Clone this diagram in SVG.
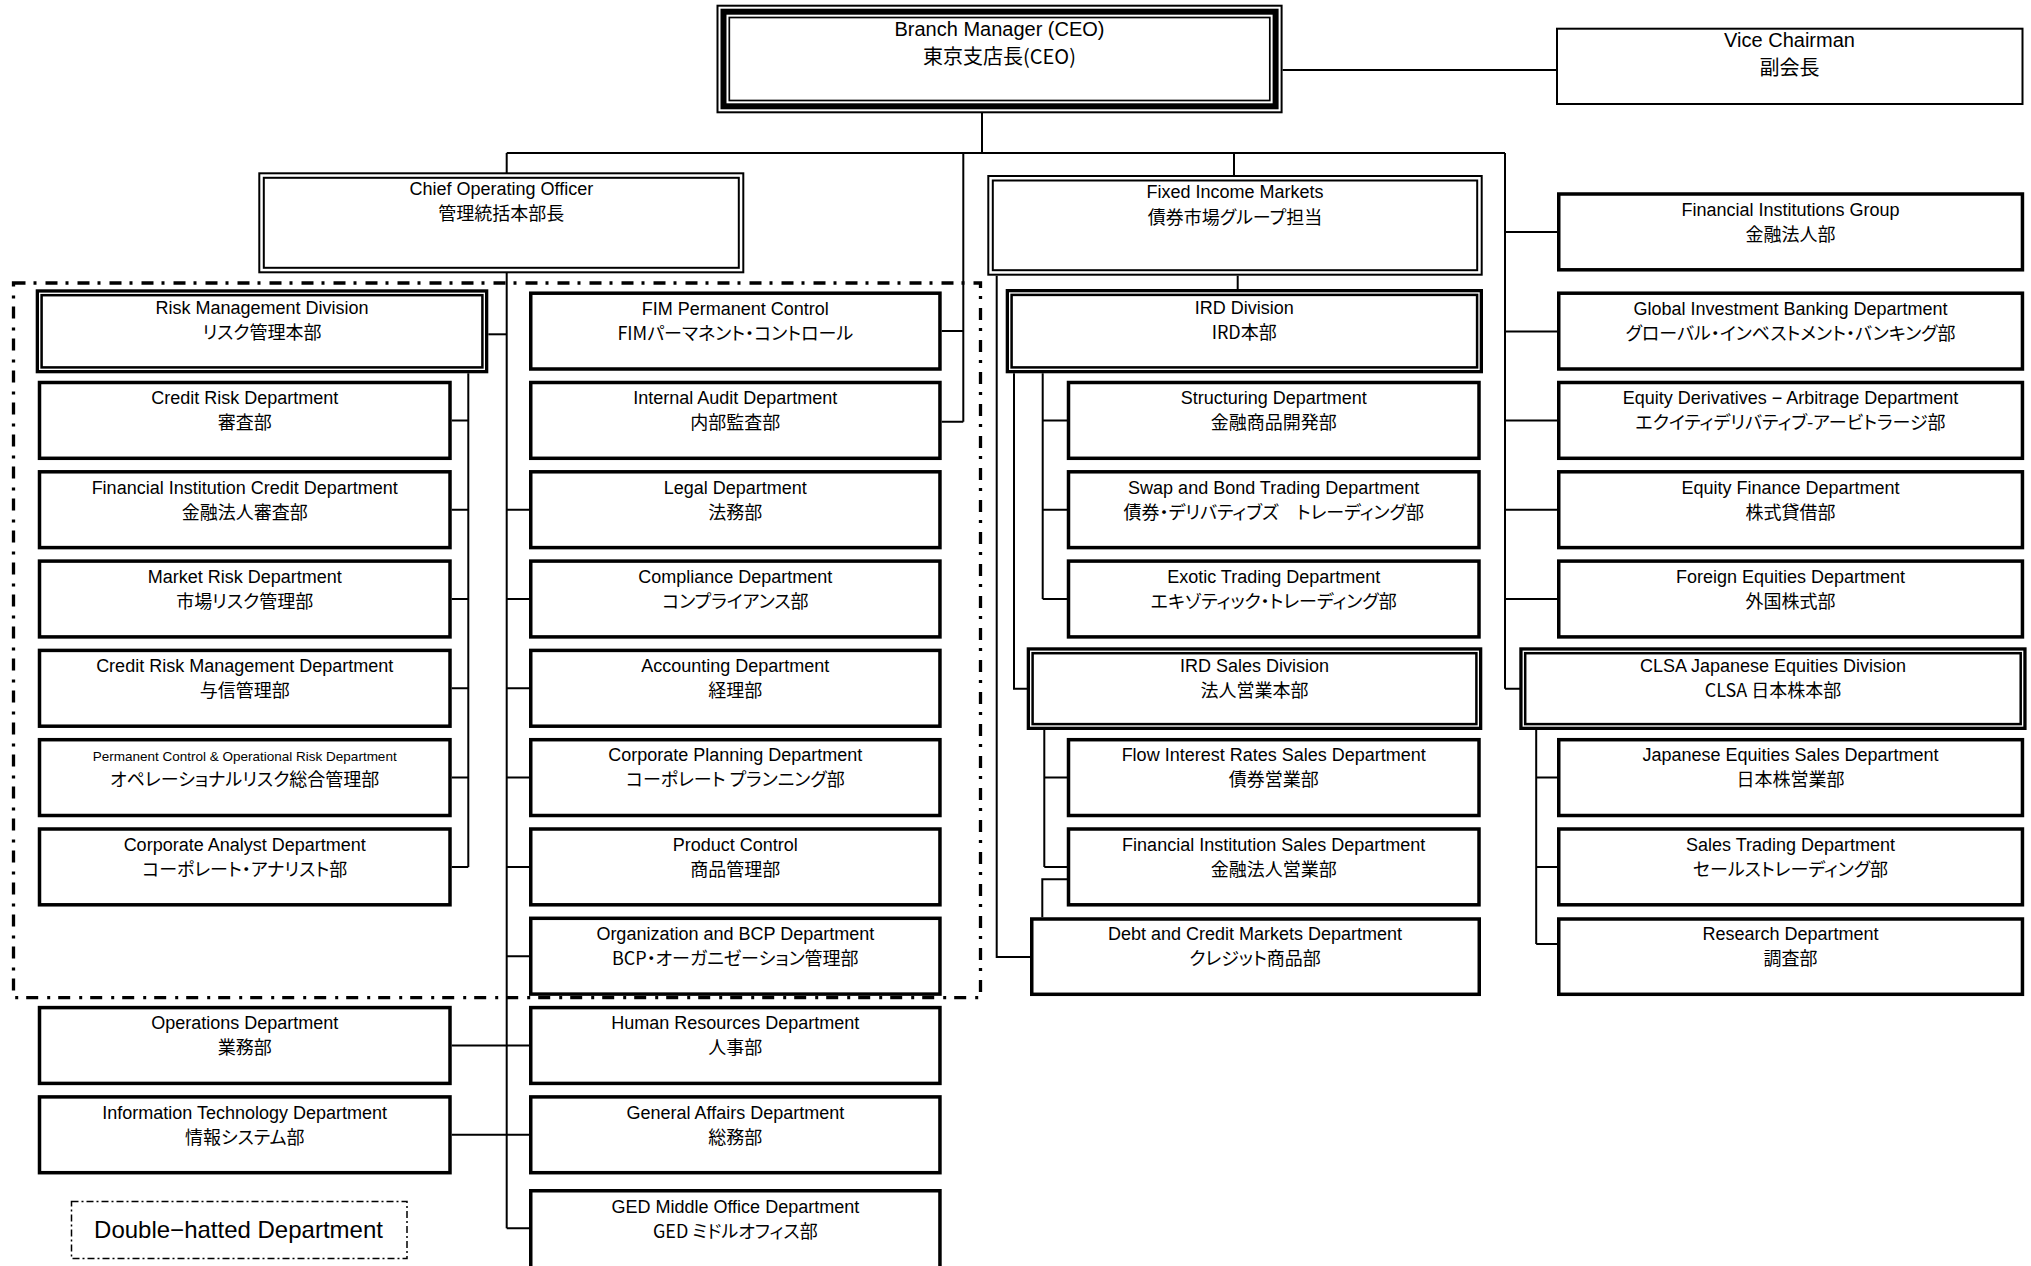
<svg xmlns="http://www.w3.org/2000/svg" width="2031" height="1266" viewBox="0 0 2031 1266">
<style>
.bg{fill:#fff}
.box{fill:#fff;stroke:#000;stroke-width:3.5}
.thk{fill:#fff;stroke:#000;stroke-width:3.3}
.in{fill:none;stroke:#000;stroke-width:2.5}
.th{fill:#fff;stroke:#000;stroke-width:2}
.thn{fill:none;stroke:#000;stroke-width:2}
.conn path{fill:none;stroke:#000;stroke-width:2}
text{text-anchor:middle;fill:#000}
.en{font-family:"Liberation Sans",Arial,"Noto Sans CJK JP",sans-serif;font-size:18px}
.jp{font-family:"Noto Sans CJK JP","Noto Sans CJK SC",sans-serif;font-size:18px;font-feature-settings:"palt"}
.big .en{font-size:20px}
.big .jp{font-size:20px}
.sm{font-size:13.5px}
.region{fill:none;stroke:#000;stroke-width:3.3;stroke-dasharray:12 8 3 9}
.legend{fill:none;stroke:#000;stroke-width:1.5;stroke-dasharray:7 3 2 3}
</style>
<rect class="bg" x="0" y="0" width="2031" height="1266"/>

<g id="connectors" class="conn">
<path d="M982,113 V153"/>
<path d="M506.7,153 H1505"/>
<path d="M1282.6,70 H1556"/>
<path d="M506.7,153 V173"/>
<path d="M506.7,273 V1228.3"/>
<path d="M963.3,153 V421.7 M941.7,331 H963.3 M941.7,421.7 H963.3"/>
<path d="M1234,153 V176"/>
<path d="M1237.7,275.7 V290"/>
<path d="M996.7,275.7 V957 H1030"/>
<path d="M488.3,334.3 H506.7"/>
<path d="M468.3,373.3 V866.9 M451.7,420.4 H468.3 M451.7,509.7 H468.3 M451.7,599 H468.3 M451.7,688.3 H468.3 M451.7,777.6 H468.3 M451.7,866.9 H468.3"/>
<path d="M506.7,509.7 H529 M506.7,599 H529 M506.7,688.3 H529 M506.7,777.6 H529 M506.7,866.9 H529 M506.7,956.2 H529 M506.7,1228.3 H529"/>
<path d="M451.7,1045.5 H529 M451.7,1134.8 H529"/>
<path d="M1014,373.3 V688.7 H1027"/>
<path d="M1042.7,373.3 V599 M1042.7,420.4 H1067 M1042.7,509.7 H1067 M1042.7,599 H1067"/>
<path d="M1044.3,730 V866.9 M1044.3,777.6 H1067 M1044.3,866.9 H1067"/>
<path d="M1042.3,917.3 V879.3 H1067"/>
<path d="M1505,153 V688.7 M1505,232 H1557 M1505,331.5 H1557 M1505,420.4 H1557 M1505,509.7 H1557 M1505,599 H1557 M1505,688.7 H1520"/>
<path d="M1536.2,730 V944 M1536.2,777.6 H1557 M1536.2,866.9 H1557 M1536.2,944 H1557"/>
</g>

<rect id="double-hatted-region" class="region" x="13.5" y="283" width="967" height="714.7"/>

<g id="ceo">
<rect class="th" x="717.5" y="5.7" width="564.1" height="106.6"/>
<rect fill="none" stroke="#000" stroke-width="6" x="723.5" y="11.7" width="552.1" height="94.6"/>
<rect fill="none" stroke="#000" stroke-width="1.7" x="729.3" y="17.5" width="540.5" height="83"/>
<text class="big"><tspan class="en" x="999.5" y="36">Branch Manager (CEO)</tspan><tspan class="jp" x="999.5" y="63.5">東京支店長(CEO)</tspan></text>
</g>

<g id="vice-chairman">
<rect class="th" x="1557" y="28.7" width="465.5" height="75.3"/>
<text class="big"><tspan class="en" x="1789.5" y="47">Vice Chairman</tspan><tspan class="jp" x="1789.5" y="74.5">副会長</tspan></text>
</g>

<g id="coo">
<rect class="th" x="259.3" y="173.3" width="484" height="99"/>
<rect class="thn" x="263.8" y="177.8" width="475" height="90"/>
<text><tspan class="en" x="501.3" y="194.5">Chief Operating Officer</tspan><tspan class="jp" x="501.3" y="220">管理統括本部長</tspan></text>
</g>

<g id="fim">
<rect class="th" x="988.3" y="176" width="493.4" height="98.7"/>
<rect class="thn" x="992.8" y="180.5" width="484.4" height="89.7"/>
<text><tspan class="en" x="1235" y="197.8">Fixed Income Markets</tspan><tspan class="jp" x="1235" y="223.5">債券市場グループ担当</tspan></text>
</g>

<g id="rmd">
<rect class="thk" x="37.35" y="290.95" width="449.3" height="80.7"/>
<rect class="in" x="41.6" y="295.2" width="440.8" height="72.2"/>
<text><tspan class="en" x="262" y="313.5">Risk Management Division</tspan><tspan class="jp" x="262" y="338.5">リスク管理本部</tspan></text>
</g>

<g id="credit-risk">
<rect class="box" x="39.5" y="382.5" width="410.5" height="75.8"/>
<text><tspan class="en" x="244.7" y="404.2">Credit Risk Department</tspan><tspan class="jp" x="244.7" y="429.2">審査部</tspan></text>
</g>
<g id="fi-credit">
<rect class="box" x="39.5" y="471.8" width="410.5" height="75.8"/>
<text><tspan class="en" x="244.7" y="493.5">Financial Institution Credit Department</tspan><tspan class="jp" x="244.7" y="518.5">金融法人審査部</tspan></text>
</g>
<g id="market-risk">
<rect class="box" x="39.5" y="561.1" width="410.5" height="75.8"/>
<text><tspan class="en" x="244.7" y="582.8">Market Risk Department</tspan><tspan class="jp" x="244.7" y="607.8">市場リスク管理部</tspan></text>
</g>
<g id="credit-risk-mgmt">
<rect class="box" x="39.5" y="650.4" width="410.5" height="75.8"/>
<text><tspan class="en" x="244.7" y="672.1">Credit Risk Management Department</tspan><tspan class="jp" x="244.7" y="697.1">与信管理部</tspan></text>
</g>
<g id="perm-control-op-risk">
<rect class="box" x="39.5" y="739.7" width="410.5" height="75.8"/>
<text><tspan class="en sm" x="244.7" y="761.2">Permanent Control &amp; Operational Risk Department</tspan><tspan class="jp" x="244.7" y="786.4">オペレーショナルリスク総合管理部</tspan></text>
</g>
<g id="corporate-analyst">
<rect class="box" x="39.5" y="829" width="410.5" height="75.8"/>
<text><tspan class="en" x="244.7" y="850.7">Corporate Analyst Department</tspan><tspan class="jp" x="244.7" y="875.7">コーポレート・アナリスト部</tspan></text>
</g>
<g id="operations">
<rect class="box" x="39.5" y="1007.6" width="410.5" height="75.8"/>
<text><tspan class="en" x="244.7" y="1029.3">Operations Department</tspan><tspan class="jp" x="244.7" y="1054.3">業務部</tspan></text>
</g>
<g id="it">
<rect class="box" x="39.5" y="1096.9" width="410.5" height="75.8"/>
<text><tspan class="en" x="244.7" y="1118.6">Information Technology Department</tspan><tspan class="jp" x="244.7" y="1143.6">情報システム部</tspan></text>
</g>

<g id="fim-permanent-control">
<rect class="box" x="530.75" y="293.2" width="409.2" height="75.8"/>
<text><tspan class="en" x="735.3" y="314.9">FIM Permanent Control</tspan><tspan class="jp" x="735.3" y="339.9">FIMパーマネント・コントロール</tspan></text>
</g>
<g id="internal-audit">
<rect class="box" x="530.75" y="382.5" width="409.2" height="75.8"/>
<text><tspan class="en" x="735.3" y="404.2">Internal Audit Department</tspan><tspan class="jp" x="735.3" y="429.2">内部監査部</tspan></text>
</g>
<g id="legal">
<rect class="box" x="530.75" y="471.8" width="409.2" height="75.8"/>
<text><tspan class="en" x="735.3" y="493.5">Legal Department</tspan><tspan class="jp" x="735.3" y="518.5">法務部</tspan></text>
</g>
<g id="compliance">
<rect class="box" x="530.75" y="561.1" width="409.2" height="75.8"/>
<text><tspan class="en" x="735.3" y="582.8">Compliance Department</tspan><tspan class="jp" x="735.3" y="607.8">コンプライアンス部</tspan></text>
</g>
<g id="accounting">
<rect class="box" x="530.75" y="650.4" width="409.2" height="75.8"/>
<text><tspan class="en" x="735.3" y="672.1">Accounting Department</tspan><tspan class="jp" x="735.3" y="697.1">経理部</tspan></text>
</g>
<g id="corporate-planning">
<rect class="box" x="530.75" y="739.7" width="409.2" height="75.8"/>
<text><tspan class="en" x="735.3" y="761.4">Corporate Planning Department</tspan><tspan class="jp" x="735.3" y="786.4">コーポレート プランニング部</tspan></text>
</g>
<g id="product-control">
<rect class="box" x="530.75" y="829" width="409.2" height="75.8"/>
<text><tspan class="en" x="735.3" y="850.7">Product Control</tspan><tspan class="jp" x="735.3" y="875.7">商品管理部</tspan></text>
</g>
<g id="org-bcp">
<rect class="box" x="530.75" y="918.3" width="409.2" height="75.8"/>
<text><tspan class="en" x="735.3" y="940">Organization and BCP Department</tspan><tspan class="jp" x="735.3" y="965">BCP・オーガニゼーション管理部</tspan></text>
</g>
<g id="human-resources">
<rect class="box" x="530.75" y="1007.6" width="409.2" height="75.8"/>
<text><tspan class="en" x="735.3" y="1029.3">Human Resources Department</tspan><tspan class="jp" x="735.3" y="1054.3">人事部</tspan></text>
</g>
<g id="general-affairs">
<rect class="box" x="530.75" y="1096.9" width="409.2" height="75.8"/>
<text><tspan class="en" x="735.3" y="1118.6">General Affairs Department</tspan><tspan class="jp" x="735.3" y="1143.6">総務部</tspan></text>
</g>
<g id="ged-middle-office">
<rect class="box" x="530.75" y="1190.75" width="409.2" height="110"/>
<text><tspan class="en" x="735.3" y="1212.5">GED Middle Office Department</tspan><tspan class="jp" x="735.3" y="1237.5">GED ミドルオフィス部</tspan></text>
</g>

<g id="ird-division">
<rect class="thk" x="1007.35" y="290.65" width="474" height="81"/>
<rect class="in" x="1011.6" y="294.9" width="465.5" height="72.5"/>
<text><tspan class="en" x="1244.2" y="313.5">IRD Division</tspan><tspan class="jp" x="1244.2" y="338.5">IRD本部</tspan></text>
</g>
<g id="structuring">
<rect class="box" x="1068.5" y="382.5" width="410.5" height="75.8"/>
<text><tspan class="en" x="1273.7" y="404.2">Structuring Department</tspan><tspan class="jp" x="1273.7" y="429.2">金融商品開発部</tspan></text>
</g>
<g id="swap-bond">
<rect class="box" x="1068.5" y="471.8" width="410.5" height="75.8"/>
<text><tspan class="en" x="1273.7" y="493.5">Swap and Bond Trading Department</tspan><tspan class="jp" x="1273.7" y="518.5">債券・デリバティブズ　トレーディング部</tspan></text>
</g>
<g id="exotic-trading">
<rect class="box" x="1068.5" y="561.1" width="410.5" height="75.8"/>
<text><tspan class="en" x="1273.7" y="582.8">Exotic Trading Department</tspan><tspan class="jp" x="1273.7" y="607.8">エキゾティック・トレーディング部</tspan></text>
</g>
<g id="ird-sales">
<rect class="thk" x="1028.35" y="648.95" width="452.3" height="79.4"/>
<rect class="in" x="1032.6" y="653.2" width="443.8" height="70.9"/>
<text><tspan class="en" x="1254.5" y="672">IRD Sales Division</tspan><tspan class="jp" x="1254.5" y="697">法人営業本部</tspan></text>
</g>
<g id="flow-ir-sales">
<rect class="box" x="1068.5" y="739.7" width="410.5" height="75.8"/>
<text><tspan class="en" x="1273.7" y="761.4">Flow Interest Rates Sales Department</tspan><tspan class="jp" x="1273.7" y="786.4">債券営業部</tspan></text>
</g>
<g id="fi-sales">
<rect class="box" x="1068.5" y="829" width="410.5" height="75.8"/>
<text><tspan class="en" x="1273.7" y="850.7">Financial Institution Sales Department</tspan><tspan class="jp" x="1273.7" y="875.7">金融法人営業部</tspan></text>
</g>
<g id="debt-credit-markets">
<rect class="box" x="1031.75" y="919" width="447.5" height="75.3"/>
<text><tspan class="en" x="1255" y="940">Debt and Credit Markets Department</tspan><tspan class="jp" x="1255" y="965">クレジット商品部</tspan></text>
</g>

<g id="fig">
<rect class="box" x="1558.75" y="194" width="463.7" height="75.8"/>
<text><tspan class="en" x="1790.5" y="215.8">Financial Institutions Group</tspan><tspan class="jp" x="1790.5" y="240.8">金融法人部</tspan></text>
</g>
<g id="gibd">
<rect class="box" x="1558.75" y="293.2" width="463.7" height="75.8"/>
<text><tspan class="en" x="1790.5" y="314.9">Global Investment Banking Department</tspan><tspan class="jp" x="1790.5" y="339.9">グローバル・インベストメント・バンキング部</tspan></text>
</g>
<g id="equity-derivatives">
<rect class="box" x="1558.75" y="382.5" width="463.7" height="75.8"/>
<text><tspan class="en" x="1790.5" y="404.2">Equity Derivatives − Arbitrage Department</tspan><tspan class="jp" x="1790.5" y="429.2">エクイティデリバティブ-アービトラージ部</tspan></text>
</g>
<g id="equity-finance">
<rect class="box" x="1558.75" y="471.8" width="463.7" height="75.8"/>
<text><tspan class="en" x="1790.5" y="493.5">Equity Finance Department</tspan><tspan class="jp" x="1790.5" y="518.5">株式貸借部</tspan></text>
</g>
<g id="foreign-equities">
<rect class="box" x="1558.75" y="561.1" width="463.7" height="75.8"/>
<text><tspan class="en" x="1790.5" y="582.8">Foreign Equities Department</tspan><tspan class="jp" x="1790.5" y="607.8">外国株式部</tspan></text>
</g>
<g id="clsa">
<rect class="thk" x="1520.95" y="648.95" width="504" height="79.4"/>
<rect class="in" x="1525.2" y="653.2" width="495.5" height="70.9"/>
<text><tspan class="en" x="1773" y="672">CLSA Japanese Equities Division</tspan><tspan class="jp" x="1773" y="697">CLSA 日本株本部</tspan></text>
</g>
<g id="jp-equities-sales">
<rect class="box" x="1558.75" y="739.7" width="463.7" height="75.8"/>
<text><tspan class="en" x="1790.5" y="761.4">Japanese Equities Sales Department</tspan><tspan class="jp" x="1790.5" y="786.4">日本株営業部</tspan></text>
</g>
<g id="sales-trading">
<rect class="box" x="1558.75" y="829" width="463.7" height="75.8"/>
<text><tspan class="en" x="1790.5" y="850.7">Sales Trading Department</tspan><tspan class="jp" x="1790.5" y="875.7">セールストレーディング部</tspan></text>
</g>
<g id="research">
<rect class="box" x="1558.75" y="919" width="463.7" height="75.3"/>
<text><tspan class="en" x="1790.5" y="940">Research Department</tspan><tspan class="jp" x="1790.5" y="965">調査部</tspan></text>
</g>

<g id="legend">
<rect class="legend" x="71.5" y="1201.5" width="335.5" height="57"/>
<text x="238.5" y="1238.3" style="font-family:'Liberation Sans',Arial,sans-serif;font-size:24px">Double−hatted Department</text>
</g>
</svg>
